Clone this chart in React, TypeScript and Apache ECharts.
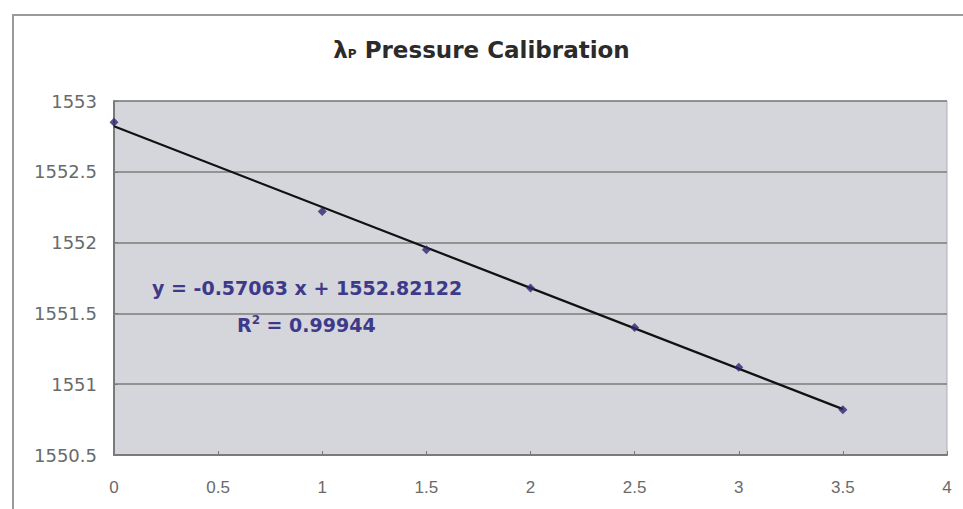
import React, { useEffect, useRef } from "react";
import * as echarts from "echarts";

const xValues = [0, 1, 1.5, 2, 2.5, 3, 3.5];
const yValues = [1552.85, 1552.22, 1551.95, 1551.68, 1551.4, 1551.12, 1550.82];
const trendX = [0, 3.5];
const trendY = [1552.821, 1550.824];
const equationText = "y = -0.57063 x + 1552.82122";
const r2Value = "0.99944";
const xTicks = [0, 0.5, 1, 1.5, 2, 2.5, 3, 3.5, 4];
const yTicks = [1550.5, 1551, 1551.5, 1552, 1552.5, 1553];

const FONT = "'DejaVu Sans', Arial, sans-serif";
const XFONT = "'Liberation Sans', Arial, sans-serif";
const NOTE = "#3e3a8a";

export default function App() {
  const ref = useRef<HTMLDivElement>(null);
  useEffect(() => {
    if (!ref.current) return;
    const chart = echarts.init(ref.current, undefined, { renderer: "svg" });
    chart.setOption({
      animation: false,
      backgroundColor: "#ffffff",
      textStyle: { fontFamily: FONT },
      title: {
        text: "{l|λ}{s|P} Pressure Calibration",
        left: "center",
        top: 33,
        textStyle: {
          fontFamily: FONT,
          fontSize: 23,
          fontWeight: "bold",
          color: "#2b2b2b",
          rich: {
            l: { fontFamily: FONT, fontSize: 23, fontWeight: "bold", color: "#2b2b2b" },
            s: { fontFamily: FONT, fontSize: 12, fontWeight: "bold", color: "#2b2b2b", padding: [8, 0, 0, 0] },
          },
        },
      },
      grid: {
        left: 114,
        top: 101,
        right: 16,
        bottom: 54,
        show: true,
        backgroundColor: "#d5d5dc",
        borderColor: "#b0b0b8",
        borderWidth: 1,
      },
      xAxis: {
        type: "value",
        min: xTicks[0],
        max: xTicks[xTicks.length - 1],
        interval: 0.5,
        axisLine: { show: true, onZero: false, lineStyle: { color: "#7a7a7a", width: 2 } },
        axisTick: { show: true, inside: true, length: 4, lineStyle: { color: "#7a7a7a" } },
        splitLine: { show: false },
        axisLabel: { color: "#6a6a6a", fontSize: 17, fontFamily: XFONT, margin: 24, formatter: (v: number) => String(v) },
      },
      yAxis: {
        type: "value",
        min: yTicks[0],
        max: yTicks[yTicks.length - 1],
        interval: 0.5,
        axisLine: { show: true, onZero: false, lineStyle: { color: "#7a7a7a", width: 2 } },
        axisTick: { show: true, inside: true, length: 4, lineStyle: { color: "#7a7a7a" } },
        splitLine: { show: true, lineStyle: { color: "#7c7c7c", width: 1.5 } },
        axisLabel: { color: "#6a6a6a", fontSize: 18, fontFamily: FONT, margin: 17, formatter: (v: number) => String(v) },
      },
      series: [
        {
          type: "line",
          data: trendX.map((x, i) => [x, trendY[i]]),
          showSymbol: false,
          symbol: "none",
          lineStyle: { color: "#111111", width: 2.2 },
          z: 2,
        },
        {
          type: "scatter",
          data: xValues.map((x, i) => [x, yValues[i]]),
          symbol: "diamond",
          symbolSize: 9,
          itemStyle: { color: "#2e2470" },
          z: 3,
        },
      ],
      graphic: [
        {
          type: "rect",
          shape: { x: 13, y: 15, width: 1000, height: 600 },
          style: { fill: "none", stroke: "#9a9a9a", lineWidth: 2 },
          silent: true,
        },
        {
          type: "text",
          x: 152,
          y: 288,
          style: {
            text: equationText,
            fontFamily: FONT,
            fontSize: 19,
            fontWeight: "bold",
            fill: NOTE,
            verticalAlign: "middle",
          },
        },
        {
          type: "text",
          x: 237,
          y: 325,
          style: {
            text: "{a|R}{b|2}{a| = " + r2Value + "}",
            fontFamily: FONT,
            verticalAlign: "middle",
            rich: {
              a: { fontFamily: FONT, fontSize: 19, fontWeight: "bold", fill: NOTE },
              b: { fontFamily: FONT, fontSize: 12, fontWeight: "bold", fill: NOTE, padding: [0, 0, 10, 0] },
            },
          },
        },
      ],
    });
    return () => chart.dispose();
  }, []);
  return (
    <div
      ref={ref}
      style={{ position: "fixed", left: 0, top: 0, width: 963, height: 509 }}
    />
  );
}
